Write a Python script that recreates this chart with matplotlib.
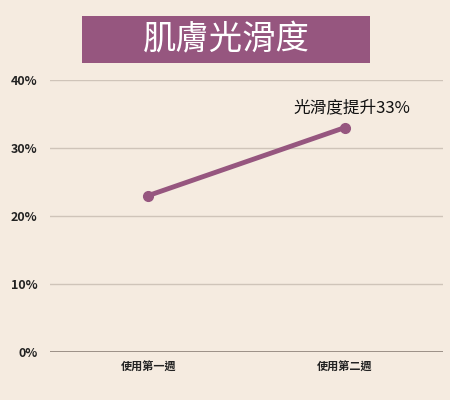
import matplotlib
matplotlib.use("Agg")
import matplotlib.pyplot as plt
from matplotlib.patches import Rectangle

plt.rcParams['font.family'] = ['Noto Sans CJK TC', 'DejaVu Sans']

categories = ["使用第一週", "使用第二週"]
values = [23, 33]
yticks = [0, 10, 20, 30, 40]
ytick_labels = ["0%", "10%", "20%", "30%", "40%"]
title = "肌膚光滑度"
annotation = "光滑度提升33%"

bg = "#F5EBE0"
purple = "#96567F"

fig = plt.figure(figsize=(4.5, 4.0), dpi=100, facecolor=bg)
ax = fig.add_axes([50/450, 1-352/400, 393/450, 272/400])
ax.set_facecolor(bg)

x = list(range(len(categories)))
ax.plot(x, values, color=purple, lw=3.5, marker='o', ms=7, solid_capstyle='round', zorder=3)
ax.set_xlim(-0.5, 1.5)
ax.set_ylim(0, 40)
ax.set_yticks(yticks)
ax.set_yticklabels(ytick_labels, fontsize=9, color="#222222", fontweight='bold')
ax.set_xticks(x)
ax.set_xticklabels(categories, fontsize=8, color="#222222", fontweight='bold')
ax.tick_params(axis='both', length=0, pad=6)
ax.tick_params(axis='y', pad=9)
for s in ax.spines.values():
    s.set_visible(False)
for t in yticks:
    ax.axhline(t, color="#8C8178" if t == 0 else "#CFC4B9", lw=1.2 if t == 0 else 1.0, zorder=1)

ax.annotate(annotation, (1, values[1]), xytext=(5, 8), textcoords='offset points',
            ha='center', va='bottom', fontsize=12, color="#111111")

fig.patches.append(Rectangle((82/450, 1-63/400), 288/450, 47/400, transform=fig.transFigure,
                             facecolor=purple, edgecolor='none'))
fig.text(226/450, 1-40/400, title, ha='center', va='center', fontsize=24, color='white',
         fontweight='light')

fig.savefig("out.png", dpi=100, facecolor=bg)
